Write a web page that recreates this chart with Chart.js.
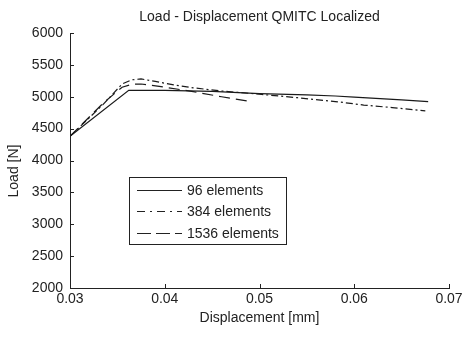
<!DOCTYPE html>
<html lang="en">
<head>
    <meta charset="UTF-8">
    <title>Load - Displacement QMITC Localized</title>
    <script src="https://cdn.jsdelivr.net/npm/chart.js"></script>
    <style>
        body { margin: 0; background: #fff; }
        #wrap { width: 466px; height: 338px; }
    </style>
</head>
<body>
    <div id="wrap"><canvas id="chart" width="466" height="338"></canvas></div>

    <script>
        // data
        const seriesLabels = ['96 elements', '384 elements', '1536 elements'];

        const disp96  = [0.030, 0.0362, 0.040, 0.045, 0.050, 0.055, 0.058, 0.060, 0.065, 0.0678];
        const load96  = [4380,  5100,   5100,  5085,  5050,  5030,  5012,  4995,  4950,  4922];

        const disp384 = [0.030, 0.0335, 0.0355, 0.0365, 0.0375, 0.039, 0.041, 0.043, 0.046, 0.050, 0.054, 0.058, 0.061, 0.064, 0.0675];
        const load384 = [4380,  4880,   5200,   5265,   5280,   5240,  5185,  5140,  5090,  5040,  4985,  4925,  4870,  4830,  4778];

        const disp1536 = [0.030, 0.0335, 0.0355, 0.0365, 0.0375, 0.040, 0.043, 0.046, 0.0487];
        const load1536 = [4380,  4900,   5150,   5195,   5200,   5150,  5080,  5000,  4935];

        const xTicks = [0.03, 0.04, 0.05, 0.06, 0.07];
        const yTicks = [2000, 2500, 3000, 3500, 4000, 4500, 5000, 5500, 6000];

        const FONT = '"Liberation Sans", Arial, sans-serif';
        const dashes = [[], [7, 3, 2, 3], [11, 6]];
        const legendDashes = [[], [8, 5, 2, 5], [14, 5]];

        function pts(xs, ys) {
            return xs.map((x, i) => ({ x: x, y: ys[i] }));
        }

        const datasets = [
            pts(disp96, load96),
            pts(disp384, load384),
            pts(disp1536, load1536)
        ].map((data, i) => ({
            label: seriesLabels[i],
            data: data,
            borderColor: '#1a1a1a',
            borderWidth: 1.2,
            borderDash: dashes[i],
            pointRadius: 0,
            fill: false,
            tension: 0
        }));

        // inward tick marks, title, y label and boxed legend like the original
        const decor = {
            id: 'decor',
            afterDraw(chart) {
                const ctx = chart.ctx;
                const a = chart.chartArea;
                const xs = chart.scales.x, ys = chart.scales.y;
                ctx.save();
                ctx.strokeStyle = '#222';
                ctx.lineWidth = 1;
                ctx.beginPath();
                xTicks.forEach(v => {
                    const px = Math.round(xs.getPixelForValue(v)) + 0.5;
                    ctx.moveTo(px, a.bottom);
                    ctx.lineTo(px, a.bottom - 4);
                });
                yTicks.forEach(v => {
                    const py = Math.round(ys.getPixelForValue(v)) + 0.5;
                    ctx.moveTo(a.left, py);
                    ctx.lineTo(a.left + 4, py);
                });
                ctx.stroke();

                ctx.fillStyle = '#222';
                ctx.font = '14px ' + FONT;
                ctx.textAlign = 'center';
                ctx.textBaseline = 'middle';
                ctx.fillText('Load - Displacement QMITC Localized', (a.left + a.right) / 2, 17);

                ctx.save();
                ctx.translate(14, 171);
                ctx.rotate(-Math.PI / 2);
                ctx.fillText('Load [N]', 0, 0);
                ctx.restore();

                // legend box
                const bx = 129.5, by = 177.5, bw = 157, bh = 67;
                ctx.fillStyle = '#fff';
                ctx.fillRect(bx, by, bw, bh);
                ctx.strokeStyle = '#222';
                ctx.strokeRect(bx, by, bw, bh);
                const rows = [190, 211, 233];
                ctx.textAlign = 'left';
                ctx.font = '14px ' + FONT;
                chart.data.datasets.forEach((ds, i) => {
                    ctx.beginPath();
                    ctx.setLineDash(legendDashes[i]);
                    ctx.lineWidth = 1.2;
                    ctx.moveTo(137, rows[i] + 0.5);
                    ctx.lineTo(182, rows[i] + 0.5);
                    ctx.stroke();
                    ctx.setLineDash([]);
                    ctx.fillStyle = '#222';
                    ctx.fillText(ds.label, 187, rows[i] + 1);
                });
                ctx.restore();
            }
        };

        new Chart(document.getElementById('chart'), {
            type: 'line',
            data: { datasets: datasets },
            options: {
                responsive: false,
                animation: false,
                layout: { padding: { top: 33, right: 17, left: 0, bottom: 0 } },
                plugins: {
                    legend: { display: false },
                    tooltip: { enabled: false }
                },
                scales: {
                    x: {
                        type: 'linear',
                        min: 0.03,
                        max: 0.07,
                        afterFit: s => { s.height = 50; },
                        afterBuildTicks: s => { s.ticks = xTicks.map(v => ({ value: v })); },
                        grid: { display: false, drawTicks: false },
                        border: { display: true, color: '#222', width: 1 },
                        ticks: {
                            padding: 3,
                            color: '#222',
                            font: { family: FONT, size: 14 },
                            callback: v => v.toFixed(2)
                        },
                        title: {
                            display: true,
                            text: 'Displacement [mm]',
                            color: '#222',
                            font: { family: FONT, size: 14 },
                            padding: { top: 0, bottom: 11 }
                        }
                    },
                    y: {
                        min: 2000,
                        max: 6000,
                        afterFit: s => { s.width = 70; },
                        afterBuildTicks: s => { s.ticks = yTicks.map(v => ({ value: v })); },
                        grid: { display: false, drawTicks: false },
                        border: { display: true, color: '#222', width: 1 },
                        ticks: {
                            padding: 7,
                            color: '#222',
                            font: { family: FONT, size: 14 },
                            callback: v => String(v)
                        }
                    }
                }
            },
            plugins: [decor]
        });
    </script>
</body>
</html>
